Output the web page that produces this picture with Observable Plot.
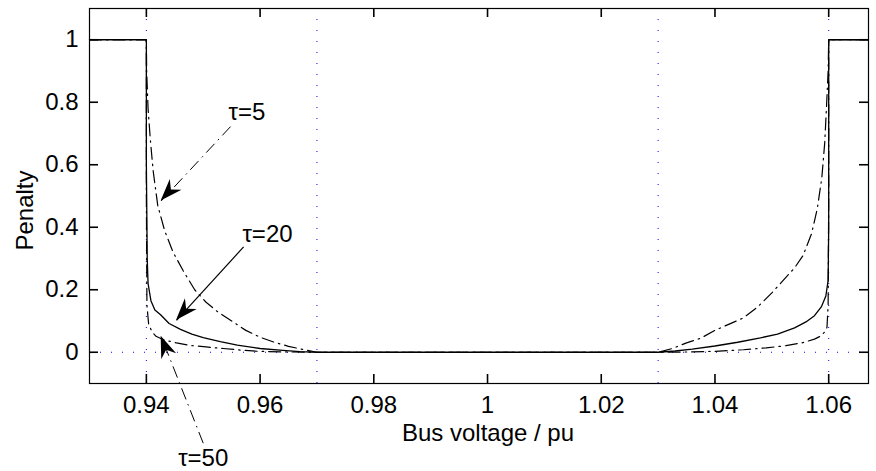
<!DOCTYPE html>
<html><head><meta charset="utf-8">
<script src="https://cdn.jsdelivr.net/npm/d3@7"></script>
<script src="https://cdn.jsdelivr.net/npm/@observablehq/plot@0.6"></script>
<style>body{margin:0;background:#fff}#chart{width:876px;height:471px}</style>
</head><body><div id="chart"></div>
<script>
// Axis ticks
const xTicks = [0.94, 0.96, 0.98, 1, 1.02, 1.04, 1.06];
const yTicks = [0, 0.2, 0.4, 0.6, 0.8, 1];
// Voltage limit guide lines
const limitLines = [0.94, 0.97, 1.03, 1.06];

// tau = 5 (dash-dot)
const tau5V = [0.930, 0.9400, 0.94005, 0.9403, 0.9407, 0.9412, 0.9420, 0.9432, 0.9447, 0.9465, 0.9485, 0.9505, 0.9525, 0.9550, 0.9575, 0.9600, 0.9625, 0.9650, 0.9675, 0.9700,
  1.0300, 1.0325, 1.0350, 1.0375, 1.0400, 1.0425, 1.0450, 1.0475, 1.0500, 1.0520, 1.0540, 1.0555, 1.0570, 1.0580, 1.0588, 1.0593, 1.0596, 1.0599, 1.0600, 1.067];
const tau5P = [1, 1, 0.90, 0.78, 0.68, 0.58, 0.47, 0.39, 0.32, 0.26, 0.20, 0.16, 0.13, 0.10, 0.07, 0.048, 0.032, 0.019, 0.009, 0,
  0, 0.012, 0.03, 0.045, 0.07, 0.09, 0.11, 0.145, 0.19, 0.23, 0.27, 0.31, 0.38, 0.46, 0.56, 0.67, 0.78, 0.90, 1, 1];

// tau = 20 (solid)
const tau20V = [0.930, 0.9400, 0.9400, 0.94015, 0.9403, 0.9408, 0.9415, 0.9425, 0.9440, 0.9460, 0.9480, 0.9500, 0.9530, 0.9560, 0.9600, 0.9640, 0.9670, 0.9700,
  1.0300, 1.0330, 1.0360, 1.0400, 1.0440, 1.0480, 1.0510, 1.0540, 1.0560, 1.0575, 1.0587, 1.0595, 1.0599, 1.0600, 1.0600, 1.067];
const tau20P = [1, 1, 0.60, 0.30, 0.22, 0.165, 0.135, 0.12, 0.092, 0.073, 0.058, 0.047, 0.034, 0.023, 0.012, 0.006, 0.002, 0,
  0, 0.004, 0.01, 0.02, 0.032, 0.046, 0.058, 0.078, 0.097, 0.117, 0.145, 0.18, 0.23, 0.40, 1, 1];

// tau = 50 (dash-dot)
const tau50V = [0.930, 0.9400, 0.9400, 0.9401, 0.9404, 0.9410, 0.9417, 0.9430, 0.9453, 0.9476, 0.9505, 0.9535, 0.9565, 0.9596, 0.9640, 0.9700,
  1.0300, 1.0360, 1.0400, 1.0450, 1.0490, 1.0525, 1.0553, 1.0575, 1.0585, 1.0593, 1.0597, 1.0599, 1.0600, 1.0600, 1.067];
const tau50P = [1, 1, 0.5, 0.15, 0.09, 0.065, 0.051, 0.04, 0.03, 0.022, 0.017, 0.012, 0.007, 0.003, 0.001, 0,
  0, 0.001, 0.003, 0.008, 0.014, 0.021, 0.03, 0.042, 0.051, 0.065, 0.08, 0.15, 0.5, 1, 1];

// Annotations
const labels = ["τ=5", "τ=20", "τ=50"];
const labelV = [0.9577, 0.9613, 0.9500];
const labelP = [0.768, 0.379, -0.338];
const arrowFromV = [0.9548, 0.9571, 0.9500];
const arrowFromP = [0.722, 0.337, -0.291];
const arrowToV = [0.9426, 0.9453, 0.9426];
const arrowToP = [0.484, 0.102, 0.051];
const arrowDashed = [true, false, true];

const xTitle = "Bus voltage / pu";
const yTitle = "Penalty";

const toRows = (V, P) => V.map((v, i) => ({v, p: P[i]}));
const s5 = toRows(tau5V, tau5P), s20 = toRows(tau20V, tau20P), s50 = toRows(tau50V, tau50P);
const ann = labels.map((t, i) => ({t, lv: labelV[i], lp: labelP[i], fv: arrowFromV[i], fp: arrowFromP[i], tv: arrowToV[i], tp: arrowToP[i], dashed: arrowDashed[i]}));

const dashDot = "12,5,1.5,5";
const FONT = 24;

// Layout
const W = 876, H = 471, ML = 89, MR = 8, MT = 8, MB = 88;
const innerW = W - ML - MR, innerH = H - MT - MB, TICK = 9;

function arrowHeads(index, scales) {
  const g = d3.create("svg:g");
  ann.forEach(a => {
    const x1 = scales.x(a.fv), y1 = scales.y(a.fp), x2 = scales.x(a.tv), y2 = scales.y(a.tp);
    const len = Math.hypot(x2 - x1, y2 - y1), ux = (x2 - x1) / len, uy = (y2 - y1) / len, nx = -uy, ny = ux;
    const L = 22, Wd = 8, N = 15;
    const pts = [[x2, y2], [x2 - ux * L + nx * Wd, y2 - uy * L + ny * Wd], [x2 - ux * N, y2 - uy * N], [x2 - ux * L - nx * Wd, y2 - uy * L - ny * Wd]];
    g.append("path").attr("d", "M" + pts.map(p => p.join(",")).join("L") + "Z").attr("fill", "black");
  });
  return g.node();
}

function yAxisTitle(index, scales, values, dimensions) {
  const {height, marginTop, marginBottom} = dimensions;
  const cy = (marginTop + height - marginBottom) / 2 + 15;
  const t = d3.create("svg:text")
    .attr("transform", `translate(25,${cy}) rotate(-90)`)
    .attr("text-anchor", "middle").attr("dy", "0.35em")
    .attr("font-size", FONT).attr("fill", "black").text(yTitle);
  return t.node();
}

const tk = {stroke: "#000", strokeWidth: 1.6, strokeOpacity: 1};

const chart = Plot.plot({
  width: W, height: H,
  marginLeft: ML, marginRight: MR, marginTop: MT, marginBottom: MB,
  style: {fontFamily: "'Liberation Sans', Arial, Helvetica, sans-serif", fontSize: FONT + "px", background: "white", color: "black"},
  x: {domain: [0.93, 1.067], label: null},
  y: {domain: [-0.1, 1.1], label: null},
  marks: [
    Plot.ruleX(limitLines, {x: d => d, stroke: "blue", strokeWidth: 1, strokeDasharray: "1,10"}),
    Plot.ruleY([0], {y: d => d, stroke: "blue", strokeWidth: 1, strokeDasharray: "1,10"}),
    Plot.line(s5, {x: "v", y: "p", stroke: "black", strokeWidth: 1.2, strokeDasharray: dashDot}),
    Plot.line(s50, {x: "v", y: "p", stroke: "black", strokeWidth: 1.2, strokeDasharray: dashDot}),
    Plot.line(s20, {x: "v", y: "p", stroke: "black", strokeWidth: 1.3}),
    Plot.frame({stroke: "black", strokeWidth: 1.2}),
    // inward ticks on all four sides
    Plot.ruleX(xTicks, {x: d => d, insetTop: innerH - TICK, ...tk}),
    Plot.ruleX(xTicks, {x: d => d, insetBottom: innerH - TICK, ...tk}),
    Plot.ruleY(yTicks, {y: d => d, insetRight: innerW - TICK, ...tk}),
    Plot.ruleY(yTicks, {y: d => d, insetLeft: innerW - TICK, ...tk}),
    Plot.axisX(xTicks, {anchor: "bottom", tickSize: 0, tickPadding: 12, tickFormat: d => String(d), label: null, fontSize: FONT}),
    Plot.axisY(yTicks, {anchor: "left", tickSize: 0, tickPadding: 11, tickFormat: d => String(d), label: null, fontSize: FONT}),
    Plot.text([xTitle], {frameAnchor: "bottom", dx: 9, dy: 57, lineAnchor: "bottom", text: d => d, fontSize: FONT}),
    yAxisTitle,
    Plot.link(ann.filter(a => a.dashed), {x1: "fv", y1: "fp", x2: "tv", y2: "tp", stroke: "black", strokeWidth: 1, strokeDasharray: dashDot}),
    Plot.link(ann.filter(a => !a.dashed), {x1: "fv", y1: "fp", x2: "tv", y2: "tp", stroke: "black", strokeWidth: 1.2}),
    arrowHeads,
    Plot.text(ann, {x: "lv", y: "lp", text: "t", fontSize: FONT})
  ]
});
document.getElementById("chart").appendChild(chart);
</script>
</body></html>
